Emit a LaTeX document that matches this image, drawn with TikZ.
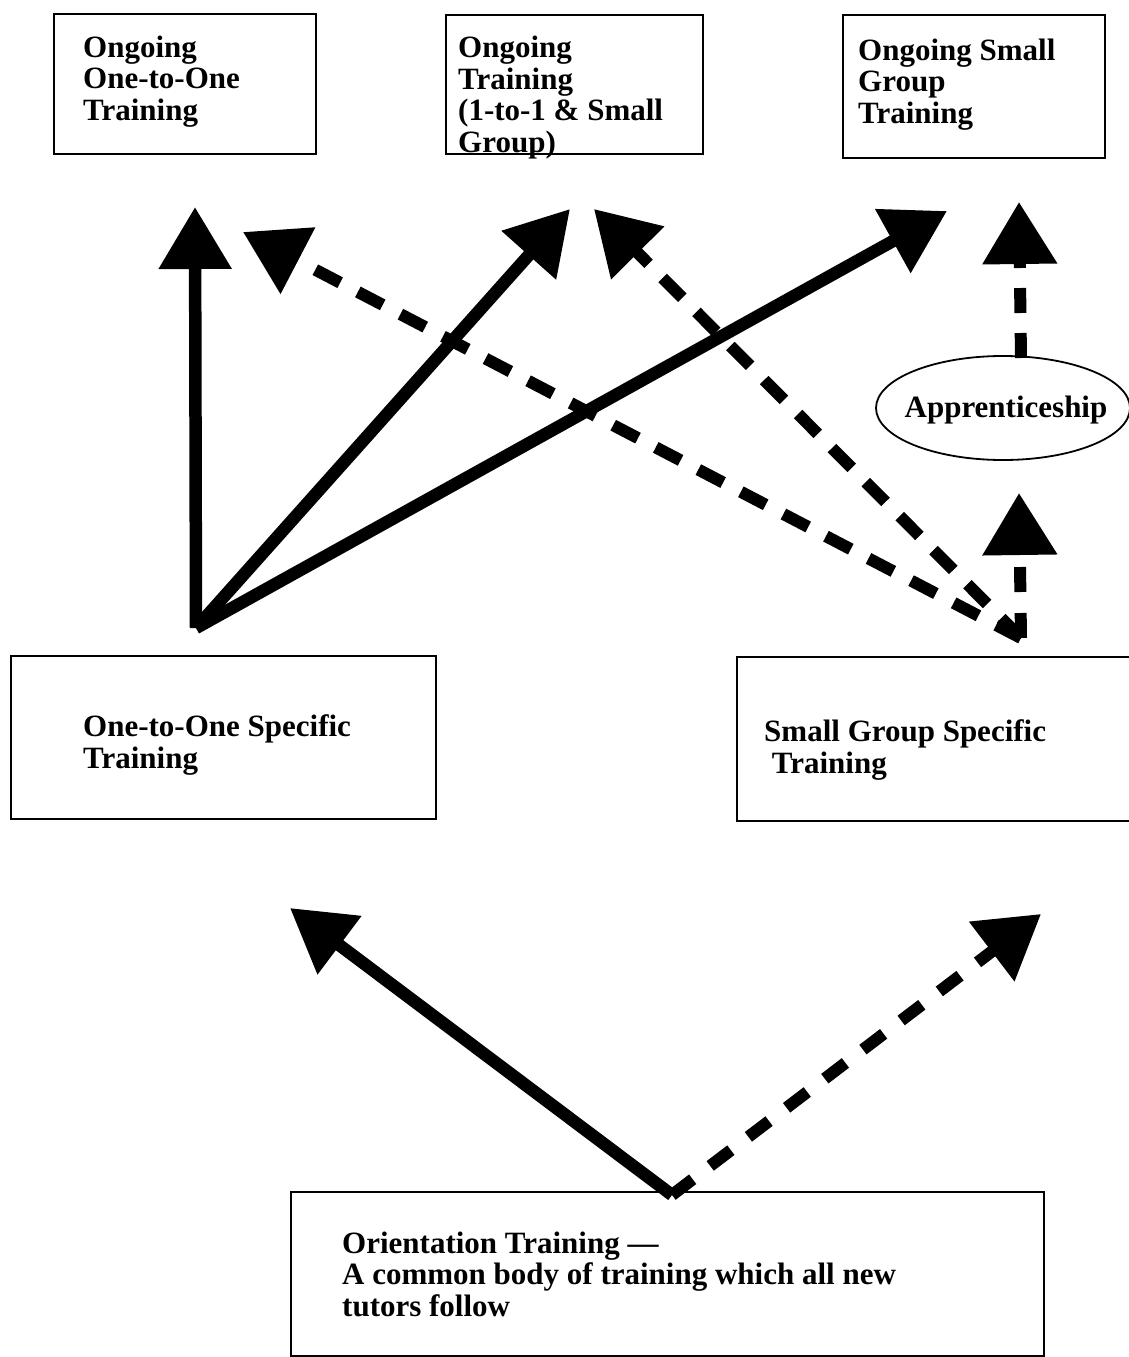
\documentclass[tikz,border=0pt]{standalone}
\usepackage{fontspec}
\setmainfont{Liberation Serif}
\usetikzlibrary{arrows.meta,shapes.geometric}
\begin{document}
\begin{tikzpicture}[x=1pt,y=-1pt,
  box/.style={draw,line width=1.8pt,inner sep=0pt,anchor=north west},
  lbl/.style={anchor=base west,align=left,inner sep=0pt,font=\fontsize{31}{31.5}\selectfont\bfseries},
  solidarrow/.style={line width=12.5pt,-{Triangle[length=62pt,width=70pt]}},
  dasharrow/.style={line width=12pt,dash pattern=on 28pt off 20pt,-{Triangle[length=62pt,width=72pt]}},
]
\useasboundingbox (0,0) rectangle (1128,1357);
\fill[white] (0,0) rectangle (1128,1357);

% boxes
\node[box,minimum width=262pt,minimum height=140pt] (b1) at (53,13) {};
\node[box,minimum width=257pt,minimum height=139pt] (b2) at (445,14) {};
\node[box,minimum width=262pt,minimum height=143pt] (b3) at (842,14) {};
\node[box,minimum width=425pt,minimum height=163pt] (b4) at (10,655) {};
\node[box,minimum width=400pt,minimum height=164pt] (b5) at (736,656) {};
\node[box,minimum width=753pt,minimum height=164pt] (b6) at (290,1191) {};
\node[draw,line width=1.8pt,ellipse,minimum width=254pt,minimum height=104pt,inner sep=0pt] (ap) at (1003,408) {};

% labels (anchored at the baseline of the last line)
\node[lbl] (t1) at (83,120) {Ongoing\\One-to-One\\Training};
\node[lbl] (t2) at (458,152) {Ongoing\\Training\\(1-to-1 \& Small\\Group)};
\node[lbl] (t3) at (858,123) {Ongoing Small\\Group\\Training};
\node[lbl] (t4) at (83,768) {One-to-One Specific\\Training};
\node[lbl] (t5) at (764,773) {Small Group Specific\\\ Training};
\node[lbl] (t6) at (342,1316) {Orientation Training ---\\A common body of training which all new\\tutors follow};
\node[lbl,anchor=base] (t7) at (1006,417) {Apprenticeship};

% connector end points
\coordinate (s1) at (196,628);
\coordinate (s2) at (1021,638);
\coordinate (s3) at (672,1195);
\coordinate (e1) at (195,207);
\coordinate (e2) at (570,209);
\coordinate (e3) at (947,211);
\coordinate (e4) at (243,232);
\coordinate (e5) at (594,209);
\coordinate (e6) at (1019,493);
\coordinate (e7) at (1019,202);
\coordinate (e8) at (290,908);
\coordinate (e9) at (1041,914);
\coordinate (ap-top) at (1021,358);

% connectors
\draw[solidarrow] (s1) -- (e1);
\draw[solidarrow] (s1) -- (e2);
\draw[solidarrow] (s1) -- (e3);
\draw[dasharrow] (s2) -- (e4);
\draw[dasharrow] (s2) -- (e5);
\draw[dasharrow,dash pattern=on 25pt off 21pt] (s2) -- (e6);
\draw[dasharrow,dash pattern=on 25pt off 20pt] (ap-top) -- (e7);
\draw[solidarrow] (s3) -- (e8);
\draw[dasharrow,dash pattern=on 26pt off 22pt] (s3) -- (e9);
\end{tikzpicture}
\end{document}
